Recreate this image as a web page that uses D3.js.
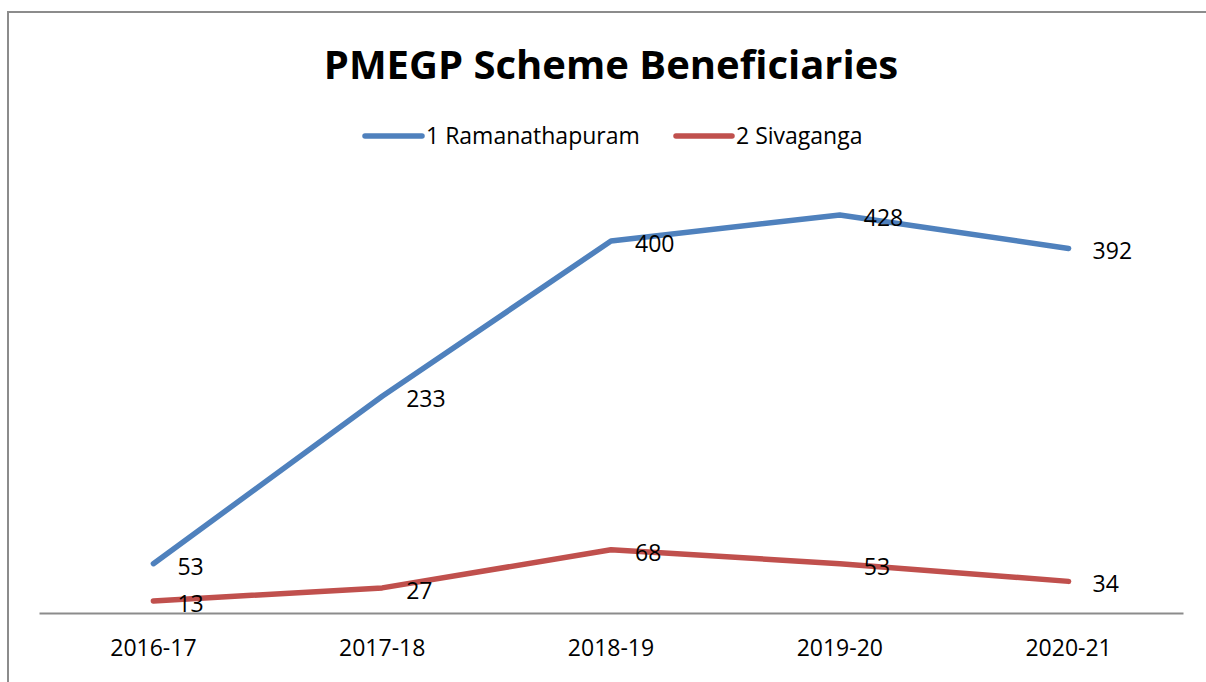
<!DOCTYPE html>
<html>
<head>
<meta charset="utf-8">
<script src="https://cdn.jsdelivr.net/npm/d3@7"></script>
<style>
  html, body { margin: 0; padding: 0; background: #fff; }
  svg { display: block; }
  text { font-family: "Open Sans", "Noto Sans", sans-serif; fill: #000; }
</style>
</head>
<body>
<svg id="chart" width="1206" height="682"></svg>
<script>
const categories = ["2016-17", "2017-18", "2018-19", "2019-20", "2020-21"];
const seriesNames = ["1 Ramanathapuram", "2 Sivaganga"];
const ramanathapuram = [53, 233, 400, 428, 392];
const sivaganga = [13, 27, 68, 53, 34];
const colors = ["#4F81BD", "#C0504D"];
const title = "PMEGP Scheme Beneficiaries";

const series = [
  { name: seriesNames[0], values: ramanathapuram, color: colors[0] },
  { name: seriesNames[1], values: sivaganga, color: colors[1] }
];

const svg = d3.select("#chart");

// outer chart frame
svg.append("rect")
  .attr("x", 8).attr("y", 12)
  .attr("width", 1220).attr("height", 700)
  .attr("fill", "none").attr("stroke", "#8c8c8c").attr("stroke-width", 2);

const x = d3.scaleBand().domain(categories).range([39, 1183]);
const y = d3.scaleLinear().domain([0, 500]).range([613, 148]);

// title
svg.append("text")
  .attr("x", 611).attr("y", 79)
  .attr("text-anchor", "middle")
  .style("font-size", "40px").style("font-weight", "bold")
  .text(title);

// x axis
const xAxis = d3.axisBottom(x).tickSize(0).tickPadding(0);
const gx = svg.append("g").attr("transform", `translate(0,${y(0)})`).call(xAxis);
gx.select(".domain").attr("stroke", "#8c8c8c").attr("stroke-width", 2);
gx.selectAll(".tick text")
  .attr("y", 43).attr("dy", null)
  .style("font-family", "'Open Sans', 'Noto Sans', sans-serif")
  .style("font-size", "23px").attr("fill", "#000");

const line = d3.line()
  .x((d, i) => x(categories[i]) + x.bandwidth() / 2)
  .y(d => y(d));

series.forEach(s => {
  svg.append("path")
    .datum(s.values)
    .attr("d", line)
    .attr("fill", "none")
    .attr("stroke", s.color)
    .attr("stroke-width", 5.5)
    .attr("stroke-linecap", "round")
    .attr("stroke-linejoin", "round");
});

series.forEach(s => {
  svg.append("g").selectAll("text")
    .data(s.values)
    .join("text")
    .attr("x", (d, i) => x(categories[i]) + x.bandwidth() / 2 + 24)
    .attr("y", d => y(d) + 2)
    .attr("dominant-baseline", "central")
    .style("font-size", "23px")
    .text(d => d);
});

// legend
const legendItems = [
  { x1: 365, x2: 422, tx: 426 },
  { x1: 676, x2: 732, tx: 736 }
];
const lg = svg.append("g");
series.forEach((s, i) => {
  const li = legendItems[i];
  lg.append("line")
    .attr("x1", li.x1).attr("x2", li.x2)
    .attr("y1", 136).attr("y2", 136)
    .attr("stroke", s.color).attr("stroke-width", 5.5)
    .attr("stroke-linecap", "round");
  lg.append("text")
    .attr("x", li.tx).attr("y", 135)
    .attr("dominant-baseline", "central")
    .style("font-size", "23px")
    .text(s.name);
});
</script>
</body>
</html>
